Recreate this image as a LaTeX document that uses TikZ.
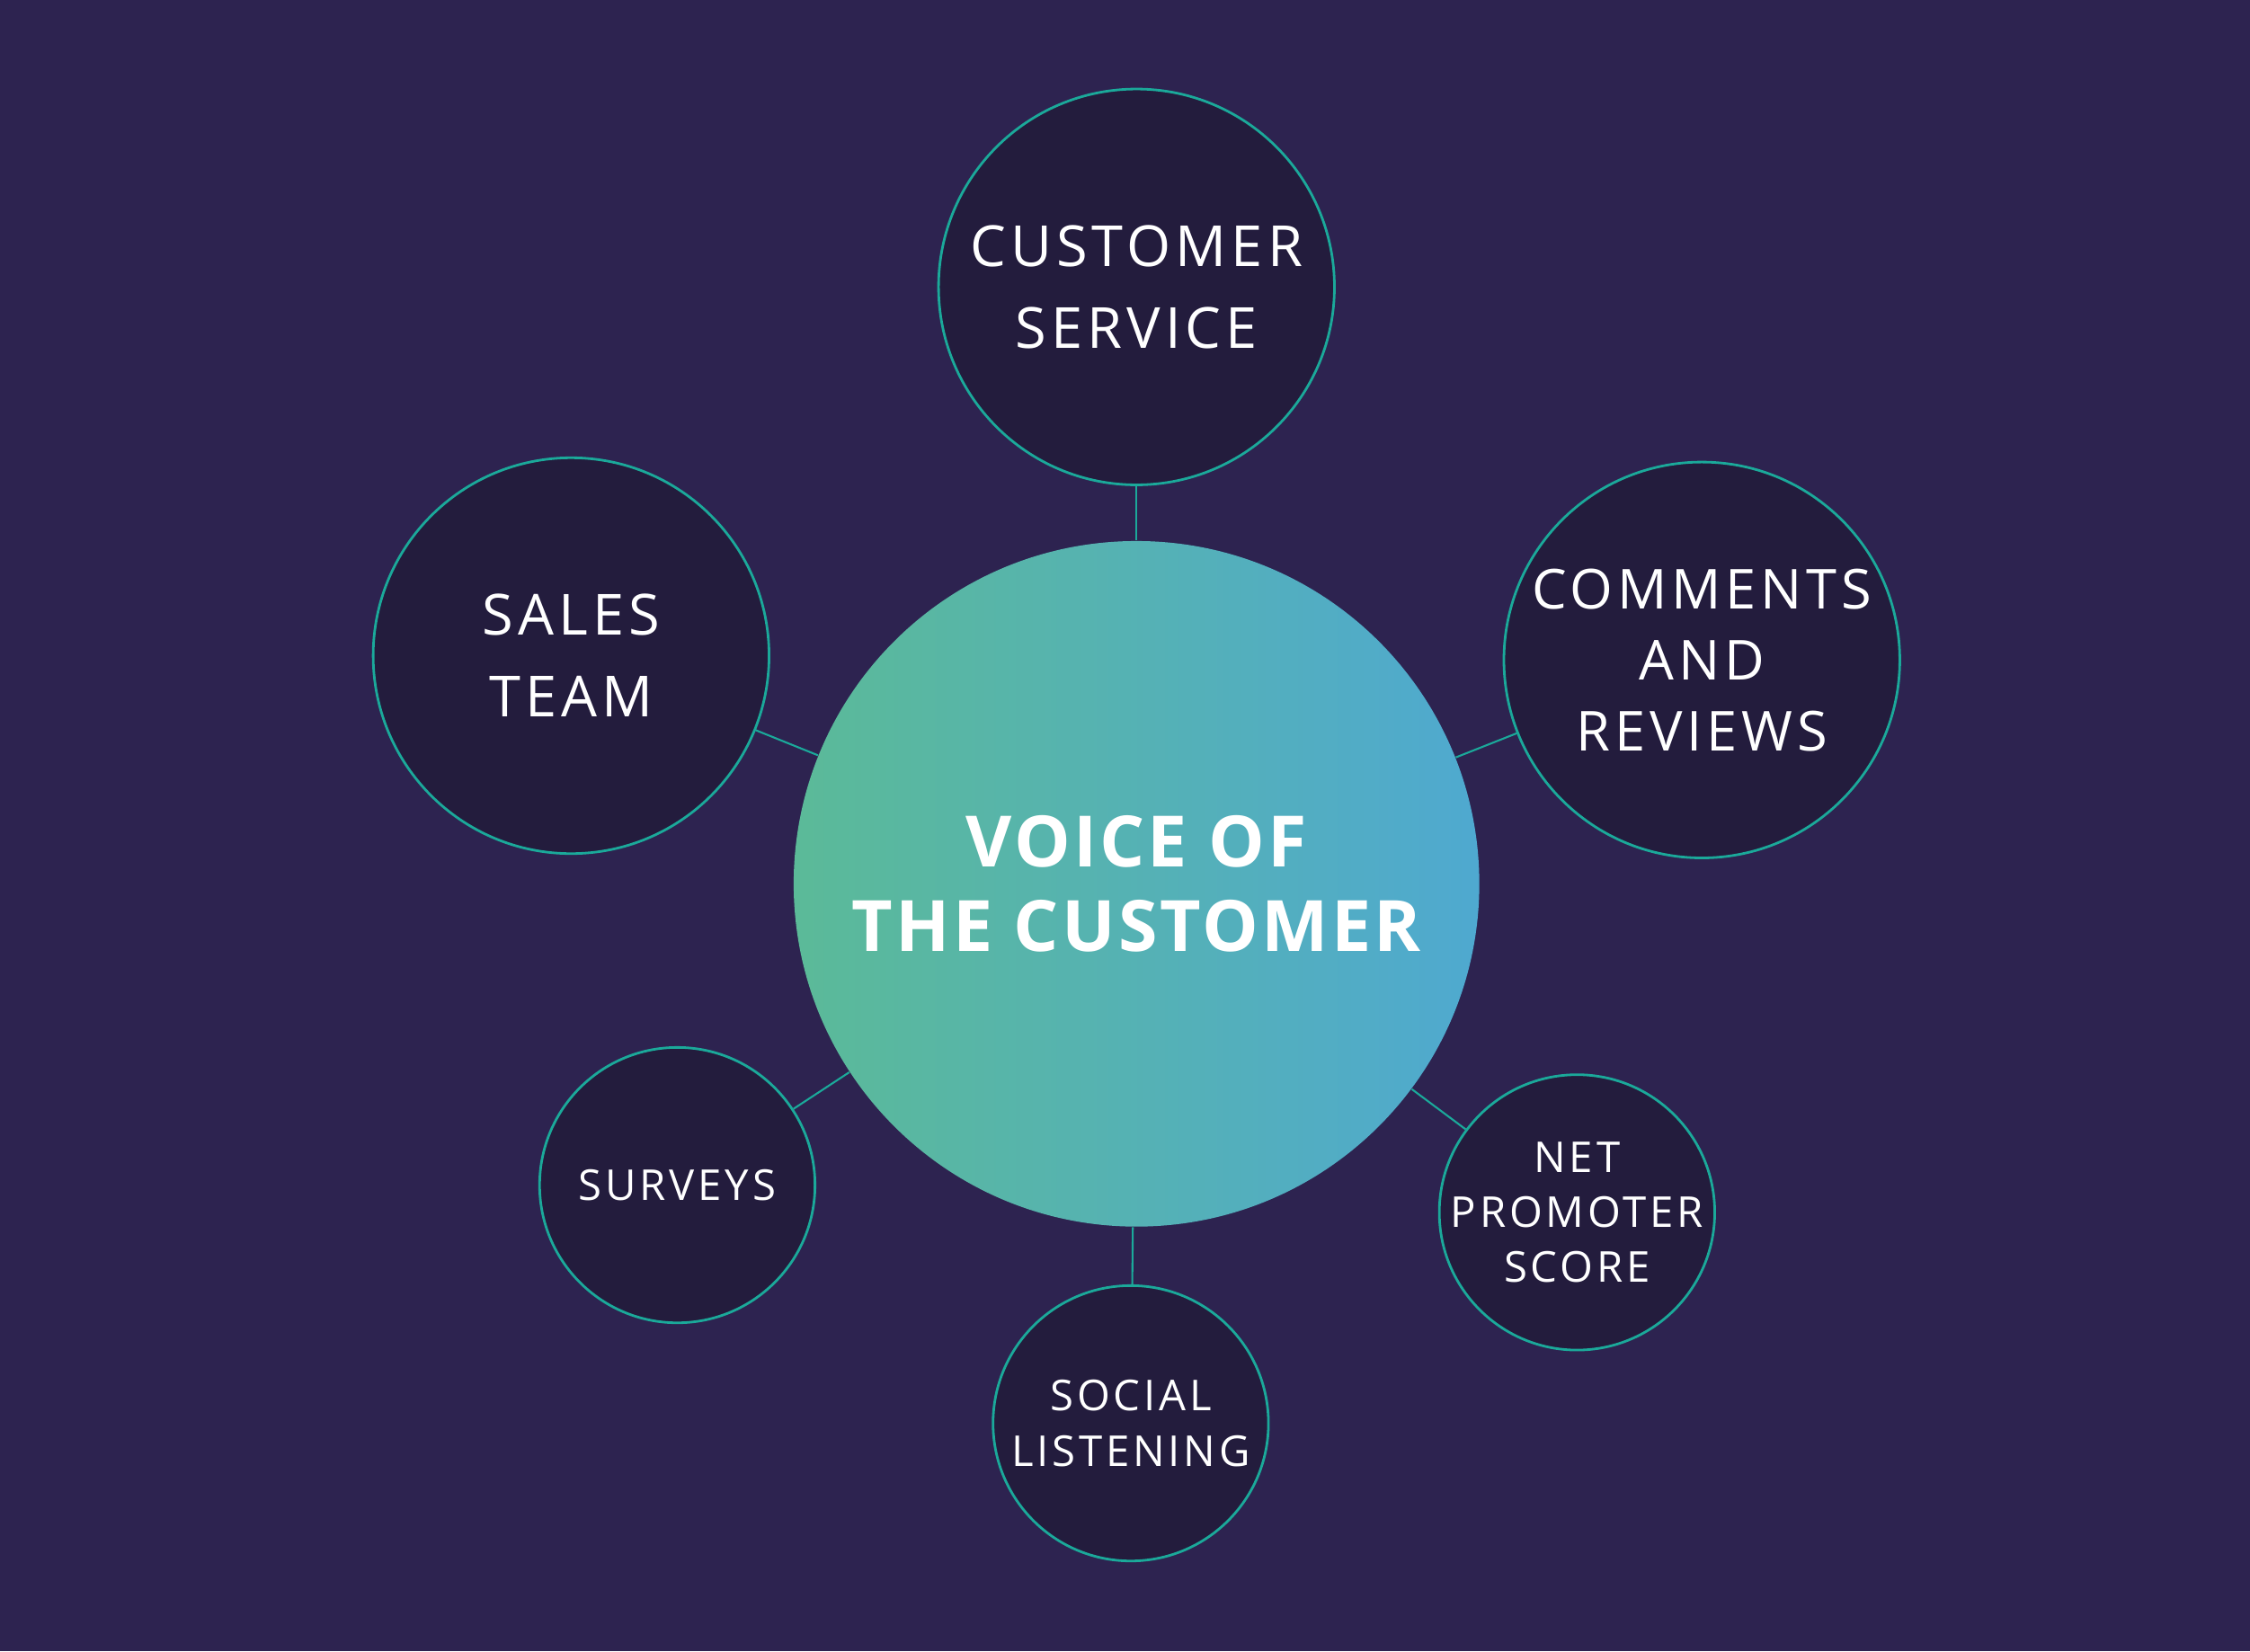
\documentclass[tikz,border=0pt]{standalone}
\usepackage{fontspec}
\setmainfont{Open Sans}[LetterSpace=8]
\newfontfamily\hubfont{Open Sans}[LetterSpace=4]
\definecolor{bgpurple}{HTML}{2D2350}
\definecolor{darkfill}{HTML}{231C3D}
\definecolor{tealline}{HTML}{1BA99A}
\definecolor{gradleft}{HTML}{5BBA98}
\definecolor{gradright}{HTML}{4FA9D0}
\begin{document}
\begin{tikzpicture}[x=0.016cm,y=-0.016cm,
    big node/.style={circle,draw=tealline,fill=darkfill,line width=0.8pt,
      minimum size=4.416cm,inner sep=-30pt,text=white,align=center,
      font=\fontsize{18}{26}\selectfont},
    small node/.style={circle,draw=tealline,fill=darkfill,line width=0.8pt,
      minimum size=3.072cm,inner sep=-30pt,text=white,align=center,
      font=\fontsize{13.5}{17.5}\selectfont},
    link/.style={draw=tealline,line width=0.6pt}]

  \fill[bgpurple] (0,0) rectangle (1568,1151);
  \useasboundingbox (0,0) rectangle (1568,1151);

  %hub%
  \node[circle,minimum size=7.648cm,inner sep=-30pt,left color=gradleft,
        right color=gradright,text=white,align=center,
        font=\hubfont\bfseries\fontsize{22.5}{27}\selectfont] (voc) at (792,616)
        {VOICE OF\\THE CUSTOMER};

  %sources%
  \node[big node] (cs) at (792,200) {CUSTOMER\\SERVICE};
  \node[big node] (st) at (398,457) {SALES\\TEAM};
  \node[big node,font=\fontsize{17.5}{22.5}\selectfont] (cr) at (1186,460) {COMMENTS\\AND\\REVIEWS};
  \node[small node] (sv) at (472,826) {SURVEYS};
  \node[small node] (sl) at (788,992) {SOCIAL\\LISTENING};
  \node[small node] (np) at (1099,845) {NET\\PROMOTER\\SCORE};

  \path[link]
    (voc) edge (cs)
          edge (st)
          edge (cr)
          edge (sv)
          edge (sl)
          edge (np);
\end{tikzpicture}
\end{document}
